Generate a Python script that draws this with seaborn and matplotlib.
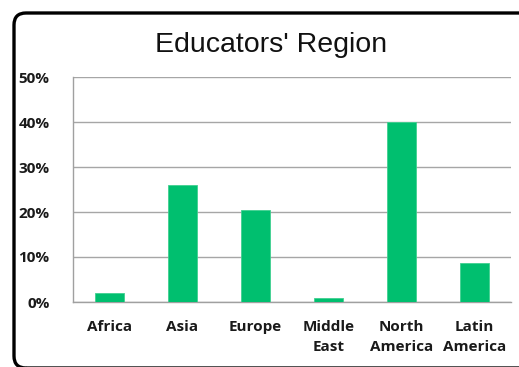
import matplotlib
matplotlib.use("Agg")
import matplotlib.pyplot as plt
from matplotlib.patches import FancyBboxPatch
from matplotlib.transforms import IdentityTransform
from matplotlib.ticker import FixedLocator, PercentFormatter
import seaborn as sns
import pandas as pd

regions = ["Africa", "Asia", "Europe", "Middle\nEast", "North\nAmerica", "Latin\nAmerica"]
share = [2.0, 26.0, 20.4, 1.0, 40.0, 8.7]
y_ticks = [0, 10, 20, 30, 40, 50]

W, H = 519, 367
DPI = 100
sns.set_theme(style="white")
plt.rcParams["font.family"] = ["Open Sans", "DejaVu Sans"]

fig = plt.figure(figsize=(W / DPI, H / DPI), dpi=DPI)
fig.patch.set_facecolor("white")

# rounded frame around the chart (runs off the right and bottom edges)
frame = FancyBboxPatch((14, -1), 560, 355,
                       boxstyle="round,pad=0,rounding_size=12",
                       transform=IdentityTransform(), fill=False,
                       edgecolor="black", linewidth=2.4, zorder=0)
fig.patches.append(frame)

left, right, top, bottom = 73, 511, 77, 302
ax = fig.add_axes([left / W, (H - bottom) / H, (right - left) / W, (bottom - top) / H])

df = pd.DataFrame({"region": regions, "share": share})
sns.barplot(data=df, x="region", y="share", ax=ax, color="#00BF6F",
            saturation=1, width=0.4, edgecolor="#40D090", linewidth=0.6, zorder=3)

ax.set_ylim(0, 50)
ax.set_xlim(-0.5, len(regions) - 0.5)
ax.yaxis.set_major_locator(FixedLocator(y_ticks))
ax.yaxis.set_major_formatter(PercentFormatter(decimals=0))
ax.grid(axis="y", color="#A6A6A6", linewidth=1.0, zorder=0)
ax.set_axisbelow(True)

for s in ["top", "right"]:
    ax.spines[s].set_visible(False)
for s in ["left", "bottom"]:
    ax.spines[s].set_color("#A0A0A0")
    ax.spines[s].set_linewidth(1.0)

# y ticks stick out to the left; x ticks sit between categories
ax.tick_params(axis="y", length=5, width=1, color="#A0A0A0", pad=12, labelsize=11)
ax.set_xticks(range(len(regions)))
ax.set_xticklabels(regions)
ax.tick_params(axis="x", length=0, pad=13, labelsize=11)
ax.set_xticks([i + 0.5 for i in range(-1, len(regions))], minor=True)
ax.tick_params(axis="x", which="minor", length=4, width=1, color="#A0A0A0")
for lbl in ax.get_xticklabels() + ax.get_yticklabels():
    lbl.set_fontweight("bold")
    lbl.set_color("#1A1A1A")
for lbl in ax.get_xticklabels():
    lbl.set_multialignment("center")
    lbl.set_linespacing(1.55)

ax.set_xlabel("")
ax.set_ylabel("")

fig.text(271 / W, 1 - 52 / H, "Educators' Region", ha="center", va="baseline",
         fontsize=20.5, family=["Liberation Sans", "DejaVu Sans"], color="#111111")

fig.savefig("out.png", dpi=DPI)
